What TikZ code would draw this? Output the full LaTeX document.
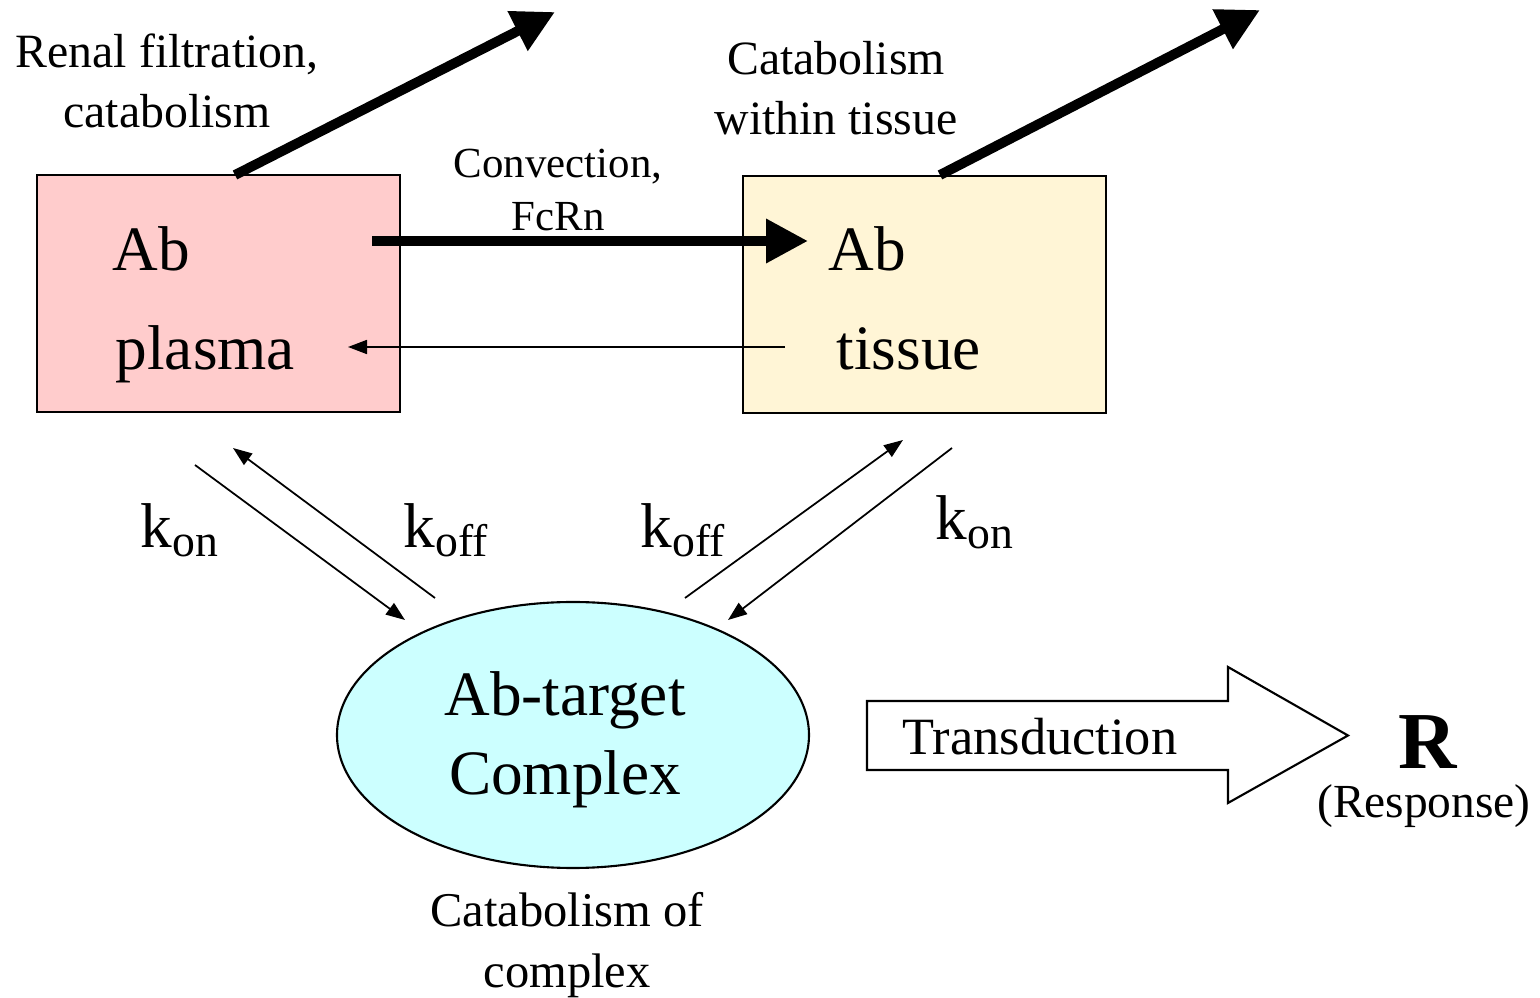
\documentclass[tikz,border=0pt]{standalone}
\usepackage{fontspec}
\setmainfont{Liberation Serif}
\usetikzlibrary{arrows.meta,shapes.geometric}

\definecolor{plasmafill}{RGB}{255,204,204}
\definecolor{tissuefill}{RGB}{255,245,214}
\definecolor{complexfill}{RGB}{204,255,255}

\newcommand{\krate}[1]{k\raisebox{-2.5pt}{\fontsize{13}{13}\selectfont #1}}

\begin{document}
\begin{tikzpicture}[
    box/.style={draw, line width=0.6pt, minimum width=3.63cm, minimum height=2.37cm},
    bigtext/.style={font=\fontsize{18}{22.5}\selectfont},
    smalltext/.style={font=\fontsize{13.6}{17}\selectfont, align=center},
    thickarrow/.style={line width=2.8pt, -{Triangle[length=0.42cm,width=0.42cm]}},
    thinarrow/.style={line width=0.5pt, -{Triangle[length=0.19cm,width=0.14cm]}}
  ]
  \useasboundingbox (0,0) rectangle (15.40,9.98);

  %------ compartments
  \node[box, fill=plasmafill] (plasma) at (2.185, 7.045) {};
  \node[box, fill=tissuefill] (tissue) at (9.245, 7.035) {};

  \node[bigtext, anchor=base west, inner sep=0pt] (abplasma) at (1.12, 7.27) {Ab};
  \node[bigtext, anchor=base west, inner sep=0pt] (plasmatext) at (1.15, 6.28) {plasma};
  \node[bigtext, anchor=base west, inner sep=0pt] (abtissue) at (8.28, 7.27) {Ab};
  \node[bigtext, anchor=base west, inner sep=0pt] (tissuetext) at (8.36, 6.28) {tissue};

  %------ elimination
  \coordinate (renalstart) at (2.35, 8.23);
  \coordinate (renalend) at (5.55, 9.86);
  \draw[thickarrow] (renalstart) -- (renalend);
  \node[smalltext] (renal) at (1.67, 9.17) {Renal filtration,\\catabolism};

  \coordinate (tissuecatstart) at (9.40, 8.23);
  \coordinate (tissuecatend) at (12.60, 9.88);
  \draw[thickarrow] (tissuecatstart) -- (tissuecatend);
  \node[smalltext] (tissuecat) at (8.36, 9.10) {Catabolism\\within tissue};

  %------ exchange plasma <-> tissue
  \coordinate (convstart) at (3.72, 7.57);
  \coordinate (convend) at (8.08, 7.57);
  \draw[thickarrow] (convstart) -- (convend);
  \node[smalltext, font=\fontsize{12.2}{15}\selectfont] (conv) at (5.58, 8.08) {Convection,\\FcRn};

  \coordinate (backstart) at (7.85, 6.51);
  \coordinate (backend) at (3.48, 6.51);
  \draw[thinarrow] (backstart) -- (backend);

  %------ binding
  \node[ellipse, draw, line width=0.6pt, fill=complexfill, minimum width=4.72cm,
        minimum height=2.66cm, inner sep=0pt] (complex) at (5.73, 2.63) {};
  \node[bigtext, align=center, inner sep=0pt] (complextext) at (5.65, 2.58) {Ab-target\\Complex};

  \coordinate (konA) at (1.95, 5.33);
  \coordinate (konB) at (4.05, 3.78);
  \coordinate (koffA) at (4.35, 4.00);
  \coordinate (koffB) at (2.33, 5.50);
  \draw[thinarrow] (konA) -- (konB);
  \draw[thinarrow] (koffA) -- (koffB);

  \coordinate (koffC) at (6.85, 4.00);
  \coordinate (koffD) at (9.03, 5.58);
  \coordinate (konC) at (9.52, 5.50);
  \coordinate (konD) at (7.28, 3.78);
  \draw[thinarrow] (koffC) -- (koffD);
  \draw[thinarrow] (konC) -- (konD);

  \node[bigtext, anchor=base west, inner sep=0pt] (konleft) at (1.40, 4.50) {\krate{on}};
  \node[bigtext, anchor=base west, inner sep=0pt] (koffleft) at (4.03, 4.50) {\krate{off}};
  \node[bigtext, anchor=base west, inner sep=0pt] (koffright) at (6.40, 4.50) {\krate{off}};
  \node[bigtext, anchor=base west, inner sep=0pt] (konright) at (9.35, 4.58) {\krate{on}};

  \node[smalltext, font=\fontsize{13.8}{17.5}\selectfont] (complexcat) at (5.67, 0.53) {Catabolism of\\complex};

  %------ response
  \draw[line width=0.6pt] (8.67, 2.97) -- (12.28, 2.97) -- (12.28, 3.31) -- (13.48, 2.625)
        -- (12.28, 1.95) -- (12.28, 2.28) -- (8.67, 2.28) -- cycle;
  \node[font=\fontsize{14.9}{18}\selectfont] (transduction) at (10.40, 2.61) {Transduction};

  \node[font=\fontsize{23}{26}\selectfont\bfseries, anchor=base, inner sep=0pt] (response) at (14.28, 2.29) {R};
  \node[font=\fontsize{13.5}{16}\selectfont, anchor=base, inner sep=0pt] (responsetext) at (14.24, 1.80) {(Response)};

\end{tikzpicture}
\end{document}
